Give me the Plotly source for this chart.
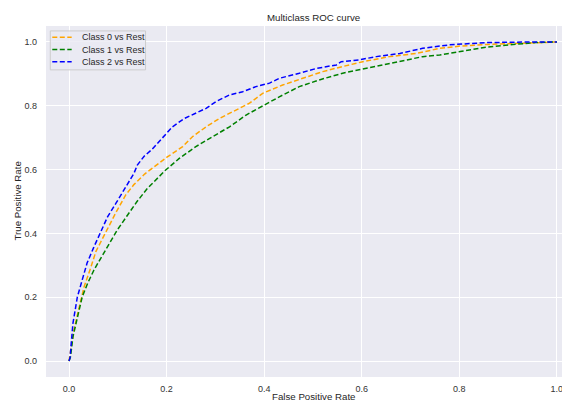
import plotly.graph_objects as go

# Class 0 vs Rest (orange)
fpr0 = [0.0, 0.003, 0.010, 0.021, 0.031, 0.045, 0.055, 0.064, 0.079, 0.096, 0.116, 0.133, 0.155,
        0.180, 0.200, 0.233, 0.253, 0.281, 0.308, 0.335, 0.370, 0.397, 0.438, 0.479,
        0.520, 0.561, 0.602, 0.657, 0.712, 0.760, 0.801, 0.856, 0.924, 1.0]
tpr0 = [0.0, 0.034, 0.097, 0.170, 0.233, 0.295, 0.343, 0.370, 0.415, 0.465, 0.520, 0.553, 0.586,
        0.615, 0.638, 0.672, 0.703, 0.734, 0.760, 0.781, 0.808, 0.839, 0.865, 0.886,
        0.907, 0.923, 0.938, 0.954, 0.964, 0.980, 0.987, 0.992, 0.996, 1.0]

# Class 1 vs Rest (green)
fpr1 = [0.0, 0.003, 0.008, 0.017, 0.027, 0.038, 0.051, 0.065, 0.080, 0.099, 0.118, 0.139, 0.160,
        0.180, 0.197, 0.226, 0.260, 0.294, 0.329, 0.363, 0.397, 0.431, 0.472, 0.513, 0.561,
        0.609, 0.671, 0.725, 0.760, 0.801, 0.856, 0.910, 0.958, 1.0]
tpr1 = [0.0, 0.013, 0.076, 0.139, 0.201, 0.243, 0.285, 0.322, 0.362, 0.411, 0.453, 0.499, 0.540,
        0.570, 0.597, 0.635, 0.672, 0.703, 0.734, 0.771, 0.800, 0.828, 0.860, 0.881, 0.902,
        0.917, 0.938, 0.954, 0.959, 0.970, 0.984, 0.992, 0.998, 1.0]

# Class 2 vs Rest (blue)
fpr2 = [0.0, 0.002, 0.008, 0.017, 0.027, 0.037, 0.050, 0.062, 0.079, 0.096, 0.113, 0.125, 0.133,
        0.140, 0.154, 0.170, 0.192, 0.212, 0.236, 0.260, 0.281, 0.301, 0.329, 0.356, 0.383,
        0.411, 0.431, 0.472, 0.507, 0.548, 0.558, 0.595, 0.630, 0.678, 0.725, 0.780, 0.856,
        0.945, 1.0]
tpr2 = [0.0, 0.010, 0.118, 0.200, 0.254, 0.307, 0.354, 0.396, 0.452, 0.494, 0.536, 0.567, 0.588,
        0.614, 0.642, 0.663, 0.700, 0.734, 0.760, 0.776, 0.792, 0.813, 0.834, 0.844, 0.860,
        0.871, 0.886, 0.902, 0.917, 0.928, 0.938, 0.944, 0.954, 0.964, 0.980, 0.991, 0.998,
        1.0, 1.0]

series = [
    ("Class 0 vs Rest", fpr0, tpr0, "orange"),
    ("Class 1 vs Rest", fpr1, tpr1, "green"),
    ("Class 2 vs Rest", fpr2, tpr2, "blue"),
]

xticks = [0.0, 0.2, 0.4, 0.6, 0.8, 1.0]
yticks = [0.0, 0.2, 0.4, 0.6, 0.8, 1.0]

DASH = "5px,2.5px"
TXT = "#262626"

fig = go.Figure()
for name, x, y, c in series:
    fig.add_trace(go.Scatter(x=x, y=y, mode="lines", name=name, showlegend=False,
                             line=dict(color=c, width=1.5, dash=DASH)))

# compact matplotlib-style legend box (paper coordinates)
shapes = [dict(type="rect", xref="paper", yref="paper", x0=0.0082, x1=0.190, y0=0.875, y1=0.986,
               fillcolor="rgba(234,234,242,0.8)", line=dict(color="#CCCCCC", width=1), layer="above")]
annotations = []
row_y = [0.968, 0.933, 0.898]
for (name, _, _, c), ry in zip(series, row_y):
    shapes.append(dict(type="line", xref="paper", yref="paper", x0=0.012, x1=0.049, y0=ry, y1=ry,
                       line=dict(color=c, width=1.5, dash=DASH), layer="above"))
    annotations.append(dict(text=name, xref="paper", yref="paper", x=0.0649, y=ry,
                            xanchor="left", yanchor="middle", showarrow=False,
                            font=dict(size=9, color=TXT)))

annotations += [
    dict(text="Multiclass ROC curve", xref="paper", yref="paper",
         x=(313 - 46) / 524, y=(377 - 17) / 351, xanchor="center", yanchor="middle",
         showarrow=False, font=dict(size=9.7, color=TXT)),
    dict(text="False Positive Rate", xref="paper", yref="paper",
         x=(313 - 46) / 524, y=(377 - 396.5) / 351, xanchor="center", yanchor="middle",
         showarrow=False, font=dict(size=9.7, color=TXT)),
    dict(text="True Positive Rate", xref="paper", yref="paper",
         x=(17 - 46) / 524, y=0.5, xanchor="center", yanchor="middle", textangle=-90,
         showarrow=False, font=dict(size=9.7, color=TXT)),
]

font = "Liberation Sans, Arial, sans-serif"
# page body has an 8px margin, so the figure is 8px smaller in each direction
fig.update_layout(
    width=562, height=394,
    margin=dict(l=38, r=0, t=18, b=25, autoexpand=False),
    paper_bgcolor="white", plot_bgcolor="#EAEAF2",
    font=dict(family=font, size=9, color=TXT),
    showlegend=False,
    shapes=shapes,
    annotations=annotations,
)
fig.update_xaxes(range=[-0.0472, 1.027], tickvals=xticks, ticktext=[f"{v:.1f}" for v in xticks],
                 showgrid=True, gridcolor="white", gridwidth=1, zeroline=False,
                 showline=False, ticks="", ticklabelstandoff=5, automargin=False,
                 tickfont=dict(size=9, color="#333333"))
fig.update_yaxes(range=[-0.05, 1.05], tickvals=yticks, ticktext=[f"{v:.1f}" for v in yticks],
                 showgrid=True, gridcolor="white", gridwidth=1, zeroline=False,
                 showline=False, ticks="", ticklabelstandoff=8, automargin=False,
                 tickfont=dict(size=9, color="#333333"))

fig.write_html("out.html")
